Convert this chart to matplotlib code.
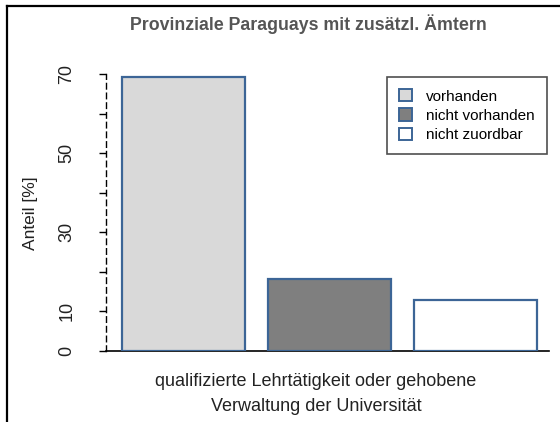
import matplotlib
matplotlib.use("Agg")
import matplotlib.pyplot as plt
from matplotlib.patches import Patch
from matplotlib.lines import Line2D

plt.rcParams['font.family'] = ['Liberation Sans', 'DejaVu Sans']

title = "Provinziale Paraguays mit zusätzl. Ämtern"
categories = ["vorhanden", "nicht vorhanden", "nicht zuordbar"]
values = [69.3, 18.2, 12.9]
colors = ["#D9D9D9", "#7F7F7F", "#FFFFFF"]
xlabel = "qualifizierte Lehrtätigkeit oder gehobene\nVerwaltung der Universität"
ylabel = "Anteil [%]"
yticks = [0, 10, 20, 30, 40, 50, 60, 70]
ytick_labels = ["0", "10", "", "30", "", "50", "", "70"]

W, H = 560, 422
fig = plt.figure(figsize=(W / 100, H / 100), dpi=100)

# outer frame lines (left and top)
fig.add_artist(Line2D([6.5 / W, 6.5 / W], [0, 1 - 5.5 / H], color="black", lw=1.6,
                      transform=fig.transFigure))
fig.add_artist(Line2D([6.5 / W, 1], [1 - 5.5 / H, 1 - 5.5 / H], color="black", lw=1.6,
                      transform=fig.transFigure))

ax_l, ax_r = 106, 549
ax_t, ax_b = 40, 351
ax = fig.add_axes([ax_l / W, 1 - ax_b / H, (ax_r - ax_l) / W, (ax_b - ax_t) / H])

edge = "#3C6596"
xs = [0.7, 1.885, 3.07]
ax.bar(xs, values, width=1.0, color=colors, edgecolor=edge, linewidth=1.6, zorder=3)

ax.set_xlim(0.07, 3.67)
ax.set_ylim(0, (ax_b - ax_t) / 3.957)

for s in ["top", "right"]:
    ax.spines[s].set_visible(False)
ax.spines["bottom"].set_linewidth(1.2)
ax.spines["left"].set_bounds(0, 70)
ax.spines["left"].set_linestyle((0, (4, 3)))
ax.spines["left"].set_linewidth(1.0)

ax.set_xticks([])
ax.set_yticks(yticks)
ax.set_yticklabels(ytick_labels, rotation=90, va="center", fontsize=13, color="#222222")
ax.tick_params(axis="y", length=5, width=1.0, pad=17)

fig.text(30 / W, 1 - 213 / H, ylabel, rotation=90, ha="center", va="center",
         fontsize=12.5, color="#222222")

fig.text(308 / W, 1 - 24 / H, title, ha="center", va="center", fontsize=12.8,
         fontweight="bold", color="#555555")
fig.text(316 / W, 1 - 394 / H, xlabel, ha="center", va="center", fontsize=13,
         color="#222222", linespacing=1.6)

handles = [Patch(facecolor=c, edgecolor=edge, linewidth=1.4) for c in colors]
leg = ax.legend(handles, categories, loc="upper left",
                bbox_to_anchor=((387 - ax_l) / (ax_r - ax_l), (ax_b - 77) / (ax_b - ax_t)),
                fontsize=11, frameon=True, fancybox=False, edgecolor="#222222",
                handlelength=0.85, handleheight=0.85, handletextpad=0.9,
                labelspacing=0.32, borderpad=0.8, borderaxespad=0)
leg.get_frame().set_linewidth(1.2)

fig.savefig("out.png", dpi=100)
